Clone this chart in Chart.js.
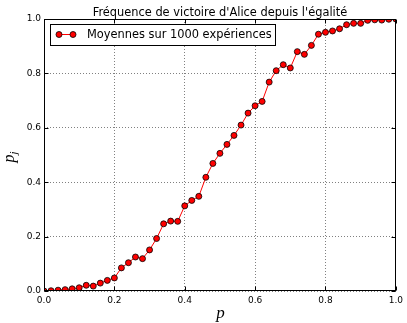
<!DOCTYPE html>
<html><head><meta charset="utf-8">
<script src="https://cdn.jsdelivr.net/npm/chart.js@4.4.0/dist/chart.umd.min.js"></script>
<style>html,body{margin:0;padding:0;background:#fff;}#wrap{width:407px;height:323px;}</style>
</head><body><div id="wrap"><canvas id="c" width="407" height="323"></canvas></div>
<script>
const pValues = [0.00,0.02,0.04,0.06,0.08,0.10,0.12,0.14,0.16,0.18,
                 0.20,0.22,0.24,0.26,0.28,0.30,0.32,0.34,0.36,0.38,
                 0.40,0.42,0.44,0.46,0.48,0.50,0.52,0.54,0.56,0.58,
                 0.60,0.62,0.64,0.66,0.68,0.70,0.72,0.74,0.76,0.78,
                 0.80,0.82,0.84,0.86,0.88,0.90,0.92,0.94,0.96,0.98,1.00];
const pjValues = [0.000,0.001,0.003,0.005,0.008,0.012,0.021,0.018,0.029,0.039,
                  0.048,0.085,0.104,0.125,0.119,0.151,0.193,0.247,0.257,0.256,
                  0.313,0.333,0.348,0.418,0.469,0.506,0.539,0.572,0.610,0.654,
                  0.681,0.697,0.768,0.810,0.832,0.820,0.880,0.870,0.903,0.944,
                  0.951,0.956,0.964,0.979,0.984,0.984,0.995,0.997,0.996,0.999,1.000];
const xTicks = [0.0,0.2,0.4,0.6,0.8,1.0];
const yTicks = [0.0,0.2,0.4,0.6,0.8,1.0];
const titleText = "Fréquence de victoire d'Alice depuis l'égalité";
const seriesLabel = "Moyennes sur 1000 expériences";
const xLabel = "p";
const yLabelMain = "p";
const yLabelSub = "j";

const points = pValues.map((p,i)=>({x:p,y:pjValues[i]}));

const deco = {
  id:'deco',
  afterDatasetsDraw(chart){
    const {ctx, chartArea:a, scales:{x,y}} = chart;
    ctx.save();
    // frame
    ctx.strokeStyle='#000'; ctx.lineWidth=1;
    const L=Math.round(a.left)+0.5, T=Math.round(a.top)+0.5, R=Math.round(a.right)-0.5, B=Math.round(a.bottom)-0.5;
    ctx.strokeRect(L,T,R-L,B-T);
    // inward ticks
    ctx.beginPath();
    xTicks.forEach(v=>{const px=Math.round(x.getPixelForValue(v))+0.5; ctx.moveTo(px,B); ctx.lineTo(px,B-4); ctx.moveTo(px,T); ctx.lineTo(px,T+4);});
    yTicks.forEach(v=>{const py=Math.round(y.getPixelForValue(v))+0.5; ctx.moveTo(L,py); ctx.lineTo(L+4,py); ctx.moveTo(R,py); ctx.lineTo(R-4,py);});
    ctx.stroke();
    // legend
    ctx.fillStyle='#fff';
    ctx.fillRect(50.5,24.5,225,21);
    ctx.strokeRect(50.5,24.5,225,21);
    ctx.strokeStyle='#ff0000'; ctx.lineWidth=1;
    ctx.beginPath(); ctx.moveTo(59,34.5); ctx.lineTo(73,34.5); ctx.stroke();
    [59,73].forEach(cx=>{ctx.beginPath(); ctx.arc(cx,34.5,3,0,Math.PI*2); ctx.fillStyle='#ff0000'; ctx.fill(); ctx.strokeStyle='#000'; ctx.lineWidth=0.8; ctx.stroke();});
    ctx.fillStyle='#000';
    ctx.font='11.4px "DejaVu Sans"'; ctx.textAlign='left'; ctx.textBaseline='middle';
    ctx.fillText(seriesLabel,87,35);
    // title
    ctx.font='11.4px "DejaVu Sans"'; ctx.textAlign='center'; ctx.textBaseline='alphabetic';
    ctx.fillText(titleText,(a.left+a.right)/2,15.5);
    // x label
    ctx.font='italic 17px "Liberation Serif"';
    ctx.fillText(xLabel,(a.left+a.right)/2+0.5,318);
    // y label
    ctx.save();
    ctx.translate(14,(a.top+a.bottom)/2+2);
    ctx.rotate(-Math.PI/2);
    ctx.font='italic 16px "Liberation Serif"';
    const w1=ctx.measureText(yLabelMain).width;
    ctx.font='italic 11px "Liberation Serif"';
    const w2=ctx.measureText(yLabelSub).width;
    const start=-(w1+w2)/2;
    ctx.textAlign='left';
    ctx.font='italic 16px "Liberation Serif"';
    ctx.fillText(yLabelMain,start,0);
    ctx.font='italic 11px "Liberation Serif"';
    ctx.fillText(yLabelSub,start+w1,3);
    ctx.restore();
    ctx.restore();
  }
};

new Chart(document.getElementById('c'),{
  type:'line',
  data:{datasets:[{
    label:seriesLabel,
    data:points,
    borderColor:'#ff0000',
    borderWidth:1,
    backgroundColor:'#ff0000',
    pointBackgroundColor:'#ff0000',
    pointBorderColor:'#000',
    pointBorderWidth:0.8,
    pointRadius:3,
    pointHoverRadius:3,
    tension:0,
    clip:0
  }]},
  options:{
    responsive:false,
    animation:false,
    events:[],
    layout:{padding:{top:19,right:10,left:0,bottom:0}},
    plugins:{legend:{display:false},title:{display:false},tooltip:{enabled:false}},
    scales:{
      x:{type:'linear',min:0,max:1,
        afterBuildTicks:s=>{s.ticks=xTicks.map(v=>({value:v}));},
        afterFit:s=>{s.height=32;},
        ticks:{callback:v=>v.toFixed(1),font:{family:'DejaVu Sans',size:9},color:'#000',padding:4,maxRotation:0,autoSkip:false},
        grid:{color:'#000',lineWidth:0.5,drawTicks:false},
        border:{display:false,dash:[1,2]}
      },
      y:{type:'linear',min:0,max:1,
        afterBuildTicks:s=>{s.ticks=yTicks.map(v=>({value:v}));},
        afterFit:s=>{s.width=44;},
        ticks:{callback:v=>v.toFixed(1),font:{family:'DejaVu Sans',size:9},color:'#000',padding:3,autoSkip:false},
        grid:{color:'#000',lineWidth:0.5,drawTicks:false},
        border:{display:false,dash:[1,2]}
      }
    }
  },
  plugins:[deco]
});
</script></body></html>
